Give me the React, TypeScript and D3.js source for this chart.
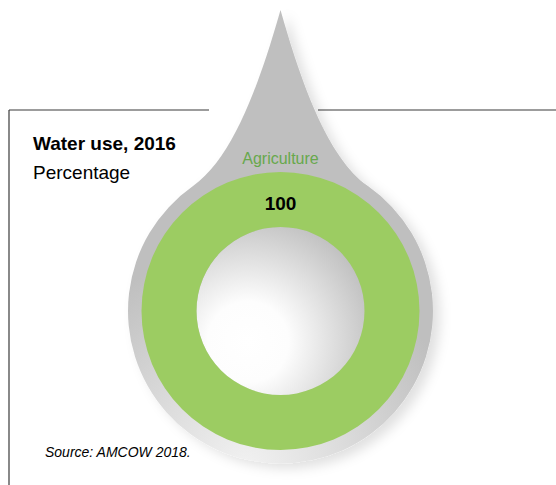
import React from 'react';
import * as d3 from 'd3';

const categories = ['Agriculture'];
const values = [100];
const title = 'Water use, 2016';
const subtitle = 'Percentage';
const source = 'Source: AMCOW 2018.';

const W = 556;
const H = 485;
const cx = 280.5;
const cy = 311;
const dropR = 152.5;
const outerR = 139;
const innerR = 84;
const tipY = 10;
const font = '"Liberation Sans", Arial, Helvetica, sans-serif';

const dropPath = (): string => {
  // tangent point where the concave sides meet the circle
  const theta = (35 * Math.PI) / 180;
  const px = dropR * Math.sin(theta);
  const py = cy - dropR * Math.cos(theta);
  const k = 50;
  const c2x = px - k * Math.cos(theta);
  const c2y = py - k * Math.sin(theta);
  const p = d3.path();
  p.moveTo(cx, tipY);
  p.bezierCurveTo(cx + 20, 80, cx + c2x, c2y, cx + px, py);
  p.arc(cx, cy, dropR, -Math.PI / 2 + theta, -Math.PI / 2 - theta + 2 * Math.PI);
  p.bezierCurveTo(cx - c2x, c2y, cx - 20, 80, cx, tipY);
  p.closePath();
  return p.toString();
};

const App: React.FC = () => {
  const pie = d3.pie<number>().sort(null)(values);
  const arc = d3.arc<d3.PieArcDatum<number>>().innerRadius(innerR).outerRadius(outerR);
  const color = d3.scaleOrdinal<string, string>().domain(categories).range(['#9ccc62']);
  const mid = (innerR + outerR) / 2;

  return (
    <svg width={W} height={H} style={{ position: 'absolute', left: 0, top: 0, background: '#fff' }}>
      <defs>
        <radialGradient id="dropGrad" gradientUnits="userSpaceOnUse" cx={245} cy={470} r={220}>
          <stop offset="0" stopColor="#f2f2f2" />
          <stop offset="0.45" stopColor="#dcdcdc" />
          <stop offset="1" stopColor="#bfbfbf" />
        </radialGradient>
        <radialGradient id="holeGrad" gradientUnits="userSpaceOnUse" cx={248} cy={342} r={135}>
          <stop offset="0" stopColor="#ffffff" />
          <stop offset="0.3" stopColor="#fdfdfd" />
          <stop offset="1" stopColor="#bdbdbd" />
        </radialGradient>
        <filter id="shadow" x="-20%" y="-10%" width="140%" height="130%">
          <feDropShadow dx="7" dy="5" stdDeviation="6" floodColor="#000" floodOpacity="0.12" />
        </filter>
      </defs>

      {/* frame */}
      <g stroke="#3a3a3a" strokeWidth={1.2} fill="none">
        <line x1={9} y1={110} x2={209} y2={110} />
        <line x1={318} y1={110} x2={W} y2={110} />
        <line x1={9} y1={110} x2={9} y2={H} />
      </g>

      <path d={dropPath()} fill="url(#dropGrad)" filter="url(#shadow)" />

      <circle cx={cx} cy={cy} r={innerR} fill="url(#holeGrad)" />

      <g transform={`translate(${cx},${cy})`}>
        {pie.map((d, i) => (
          <path key={i} d={arc(d) || ''} fill={color(categories[i])} />
        ))}
        {categories.map((c, i) => (
          <g key={c}>
            <text x={0} y={-outerR - 8} textAnchor="middle" fontFamily={font} fontSize={16} fill="#67a84c">
              {c}
            </text>
            <text x={0} y={-mid + 10.5} textAnchor="middle" fontFamily={font} fontSize={19} fontWeight="bold" fill="#000">
              {values[i]}
            </text>
          </g>
        ))}
      </g>

      <text x={33} y={150} fontFamily={font} fontSize={19} fontWeight="bold" fill="#000">
        {title}
      </text>
      <text x={33} y={179} fontFamily={font} fontSize={19} fill="#000">
        {subtitle}
      </text>
      <text x={45} y={457} fontFamily={font} fontSize={14} fontStyle="italic" fill="#000">
        {source}
      </text>
    </svg>
  );
};

export default App;
